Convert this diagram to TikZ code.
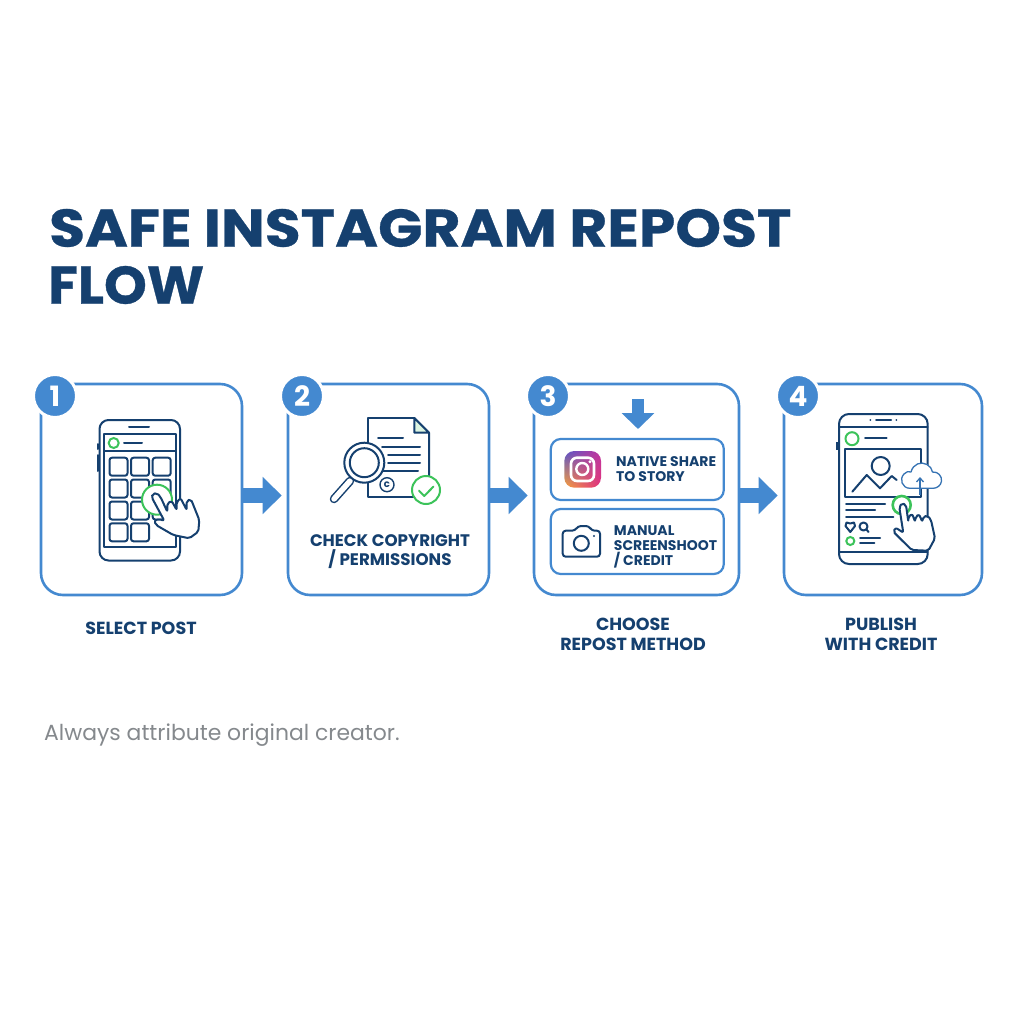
\documentclass[tikz,border=0pt]{standalone}
\usepackage{fontspec}
\setmainfont{Poppins}
\newfontfamily\titlefont[BoldFeatures={FakeStretch=1.1,FakeBold=0.6}]{Poppins}
\usetikzlibrary{arrows.meta,shadings}

\definecolor{navy}{HTML}{15406F}
\definecolor{flowblue}{HTML}{4489D0}
\definecolor{okgreen}{HTML}{3CC35A}
\definecolor{notegray}{HTML}{85898D}
\definecolor{igpurple}{HTML}{5A55C8}
\definecolor{igpink}{HTML}{C0359F}
\definecolor{igorange}{HTML}{F8A23A}
\definecolor{igred}{HTML}{E2307C}

\tikzset{
	card/.style={draw=flowblue,line width=2.6pt,rounded corners=22pt,fill=white,minimum height=211pt,inner sep=0pt},
	badge/.style={circle,fill=flowblue,draw=white,line width=3pt,minimum size=43pt,inner sep=0pt,text=white,font=\fontsize{28}{28}\selectfont\bfseries},
	subbox/.style={draw=flowblue,line width=2.2pt,rounded corners=10pt,minimum width=173pt,inner sep=0pt},
	steplabel/.style={text=navy,align=center,inner sep=0pt,font=\fontsize{17.5}{20}\selectfont\bfseries},
	sublabel/.style={text=navy,align=left,anchor=west,inner sep=0pt,font=\fontsize{14}{15}\selectfont\bfseries},
	flowarrow/.style={draw=flowblue,line width=15pt,-{Triangle[length=19pt,width=36pt]}},
	icon/.style={draw=navy,line width=2pt,line cap=round,line join=round},
	ring/.style={draw=okgreen,line width=2pt},
	hand/.style={icon,fill=white,rounded corners=2pt}
}

\begin{document}
\begin{tikzpicture}[x=1pt,y=-1pt]
	
	\useasboundingbox[fill=white] (0,0) rectangle (1024,1024);
	
	% title and note
	\node[anchor=west,inner sep=0pt,text=navy,font=\titlefont\fontsize{53}{53}\selectfont\bfseries] (titleone) at (49,228) {SAFE INSTAGRAM REPOST};
	\node[anchor=west,inner sep=0pt,text=navy,font=\titlefont\fontsize{53}{53}\selectfont\bfseries] (titletwo) at (48,285) {\scalebox{0.935}[1]{FLOW}};
	\node[anchor=west,inner sep=0pt,text=notegray,font=\fontsize{21.9}{22}\selectfont] (note) at (44,735) {Always attribute original creator.};
	
	% cards
	\node[card,minimum width=201pt] (card1) at (141.5,489.5) {};
	\node[card,minimum width=201pt] (card2) at (388.5,489.5) {};
	\node[card,minimum width=205pt] (card3) at (636.5,489.5) {};
	\node[card,minimum width=198pt] (card4) at (883,489.5) {};
	
	\draw[flowarrow,shorten >=5pt] ([yshift=-6pt]card1.east) -- ([yshift=-6pt]card2.west);
	\draw[flowarrow,shorten >=5pt] ([yshift=-6pt]card2.east) -- ([yshift=-6pt]card3.west);
	\draw[flowarrow,shorten >=5pt] ([yshift=-6pt]card3.east) -- ([yshift=-6pt]card4.west);
	
	\node[badge] (badge1) at (55,396) {1};
	\node[badge] (badge2) at (302,396) {2};
	\node[badge] (badge3) at (548,396) {3};
	\node[badge] (badge4) at (798,396) {4};
	
	% step 1, phone with tiles
	\draw[icon,rounded corners=9pt] (99.5,420) rectangle (180,560.5);
	\draw[icon] (104,434) rectangle (175.5,547);
	\draw[icon] (104,451) -- (175.5,451);
	\draw[icon] (129,427) -- (149,427);
	\draw[icon] (124,443) -- (142,443);
	\draw[icon] (97.5,444) -- (97.5,449) (97.5,455) -- (97.5,471);
	\draw[ring] (113.7,443) circle (5);
	\foreach \tx in {109.5,131,152.7}
		\foreach \ty in {457.7,479.5,501.5}
			\draw[icon,rounded corners=2.5pt] (\tx,\ty) rectangle +(18,18);
	\foreach \tx in {109.5,131}
		\draw[icon,rounded corners=2.5pt] (\tx,523.3) rectangle +(18,18);
	\draw[ring,fill=white] (157,499.7) circle (15);
	\draw[hand] (151.7,497.3) -- (152.5,494) -- (157,493) -- (160.7,497.3) -- (167.3,511.7) -- (167.3,503.3) -- (171.7,501) -- (176.7,510) -- (176.7,501.7) -- (180.7,498.3) -- (186.7,510) -- (186.7,500.7) -- (191,499.3) -- (199.3,520) -- (198.3,531.7) -- (189.3,538.3) -- (173.3,535) -- (156,525) -- (154.3,520.7) -- (158.3,519) -- (164.3,520.7) -- cycle;
	
	% step 2, document and magnifier
	\draw[icon] (414.3,418) -- (368.3,418) -- (368.3,497.3) -- (415,497.3);
	\draw[icon] (414.3,418) -- (429,432.7) -- (429,480);
	\draw[icon,fill=okgreen!18] (414.3,418) -- (429,432.7) -- (414.3,432.7) -- cycle;
	\draw[icon] (378,438) -- (403,438);
	\draw[icon] (382,446.7) -- (420,446.7);
	\draw[icon] (388,454.7) -- (420,454.7);
	\draw[icon] (388,462.7) -- (420,462.7);
	\draw[icon] (382,471) -- (418,471);
	\node[draw=navy,line width=1.4pt,circle,minimum size=14pt,inner sep=0pt,text=navy,font=\fontsize{10}{10}\selectfont\bfseries] (copymark) at (387,484.7) {c};
	\draw[line width=8.5pt,draw=navy,line cap=round] (350,481) -- (334,499);
	\draw[line width=5.5pt,draw=white,line cap=round] (350,481) -- (334,499);
	\draw[icon,fill=white] (364.3,462.7) circle (20);
	\draw[icon] (364.3,462.7) circle (14.5);
	\draw[ring,fill=white] (426,490) circle (14);
	\draw[ring,line cap=round,line join=round] (419,490.7) -- (424.3,496) -- (433.3,486.7);
	\node[steplabel,font=\fontsize{16.7}{19}\selectfont\bfseries] (label2) at (390,552) {CHECK COPYRIGHT\\/ PERMISSIONS};
	
	% step 3, two methods
	\coordinate (downtop) at (638,399);
	\coordinate (downtip) at (638,429);
	\draw[draw=flowblue,line width=12pt,-{Triangle[length=16pt,width=32pt]}] (downtop) -- (downtip);
	\node[subbox,minimum height=61pt] (nativebox) at (637.3,469.5) {};
	\node[subbox,minimum height=65pt] (manualbox) at (637.3,541.5) {};
	\shade[upper left=igpurple,upper right=igpink,lower left=igorange,lower right=igred,rounded corners=10pt] (564.3,451) rectangle (601,487.7);
	\draw[draw=white,line width=2.6pt,rounded corners=6pt] (571,457.7) rectangle (594,481);
	\draw[draw=white,line width=2.4pt] (582.3,469) circle (6);
	\fill[white] (590,461.7) circle (1.6);
	\node[sublabel] (nativetext) at (616,469) {NATIVE SHARE\\TO STORY};
	\draw[icon,rounded corners=3pt] (562.7,530.7) -- (575,530.7) -- (578,526) -- (589,526) -- (591.7,530.7) -- (600,530.7) -- (600,556.7) -- (562.7,556.7) -- cycle;
	\draw[icon] (581.3,543.3) circle (7.5);
	\fill[navy] (594,536) circle (1.1);
	\node[sublabel] (manualtext) at (613.7,547) {MANUAL\\SCREENSHOOT\\/ CREDIT};
	
	% step 4, phone with post
	\draw[icon,rounded corners=10pt] (839,414) rectangle (927.7,564);
	\draw[icon] (839,426.7) -- (927.7,426.7);
	\draw[icon] (839,551.7) -- (927.7,551.7);
	\draw[icon] (876,420) -- (891,420);
	\fill[navy] (870.3,420) circle (1) (896.3,420) circle (1);
	\draw[line width=2.5pt,draw=navy] (837.5,441.7) -- (837.5,450);
	\draw[ring] (852,438.7) circle (6.5);
	\draw[icon] (865,438) -- (886.7,438);
	\draw[icon] (845.3,449.3) rectangle (921,496.7);
	\draw[icon] (880.7,466) circle (9);
	\draw[icon] (852.3,491.7) -- (866.7,475) -- (880,488.3) -- (891.7,476) -- (896.7,480);
	\draw[icon] (846,504.3) -- (885,504.3);
	\draw[icon] (846,510) -- (875,510);
	\draw[icon] (846,517) -- (893.3,517);
	\draw[icon] (850.3,532) -- (845.5,526) -- (846.5,522.5) -- (850.3,523.5) -- (854,522.5) -- (855,526) -- cycle;
	\draw[icon] (863.5,526.5) circle (4) (866.5,529.5) -- (868.5,532);
	\draw[ring] (850.3,541) circle (4);
	\draw[icon] (860,537.7) -- (880,537.7);
	\draw[icon] (860,543) -- (874.3,543);
	% cloud
	\draw[draw=flowblue!70!navy,line width=1.3pt,fill=white,line join=round] (910,488.3) .. controls (902,488.3) and (899,479) .. (904,474) .. controls (906,471.5) and (909,471) .. (911,472) .. controls (913,464) and (921,461) .. (927,464.5) .. controls (930,466) and (932,469) .. (932.5,472) .. controls (938,471.5) and (942,476) .. (941.5,481) .. controls (941,485.5) and (937,488.3) .. (933,488.3) -- cycle;
	\draw[draw=flowblue!70!navy,line width=1.3pt,-{Straight Barb[length=4pt,width=7pt]}] (920,495) -- (920,477);
	\draw[ring,line width=2.6pt,fill=white] (901.7,505) circle (9);
	\draw[hand] (899.3,507.3) -- (902,503) -- (906,505) -- (908.3,521.7) -- (908.3,516.7) -- (912.3,514) -- (915,521.7) -- (915.7,516.7) -- (919,514.3) -- (922.3,521.7) -- (923.3,516.7) -- (927.7,515.7) -- (931,520) -- (935,538.3) -- (928.3,550.7) -- (911.7,550) -- (893.3,531.7) -- (895.7,527.7) -- (903.3,532.7) -- cycle;
	
	% labels under the cards
	\node[steplabel] (label1) at (141,628) {SELECT POST};
	\node[steplabel] (label3) at (633,634) {CHOOSE\\REPOST METHOD};
	\node[steplabel] (label4) at (881,634) {PUBLISH\\WITH CREDIT};
	
\end{tikzpicture}
\end{document}
